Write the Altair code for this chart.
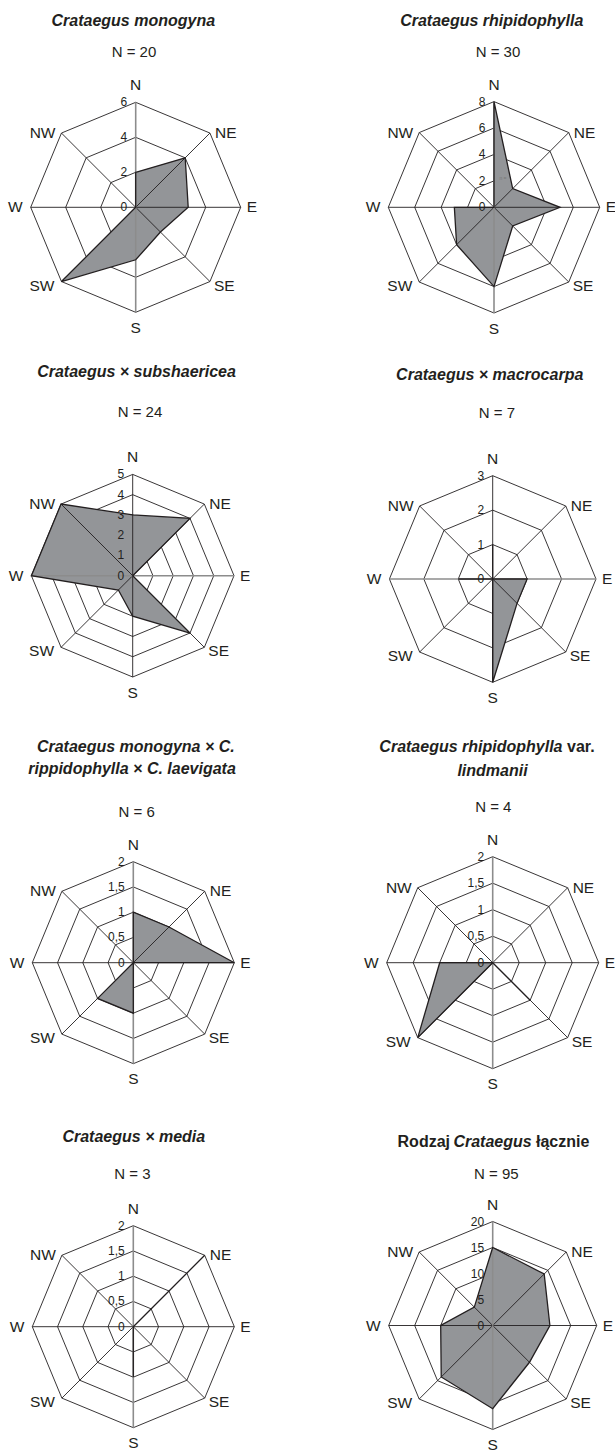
import math

import altair as alt
import pandas as pd

# ---------------------------------------------------------------------------
# Data: number of trees leaning towards each compass direction
# ---------------------------------------------------------------------------
directions = ["N", "NE", "E", "SE", "S", "SW", "W", "NW"]

sample_sizes = [20, 30, 24, 7, 6, 4, 3, 95]

monogyna = [2, 4, 3, 2, 3, 6, 0, 0]
rhipidophylla = [8, 2, 5, 2, 6, 4, 3, 0]
subshaericea = [3, 4, 0, 4, 2, 1, 5, 5]
macrocarpa = [1, 0, 1, 1, 3, 0, 1, 0]
triple_hybrid = [1, 1, 2, 0, 1, 1, 0, 0]
lindmanii = [0, 0, 0, 1, 0, 2, 1, 0]
media = [0, 2, 0, 0, 1, 0, 0, 0]
genus_total = [15, 14, 11, 10, 16, 14, 10, 5]

series = [monogyna, rhipidophylla, subshaericea, macrocarpa,
          triple_hybrid, lindmanii, media, genus_total]

axis_max = [6, 8, 5, 3, 2, 2, 2, 20]
tick_labels = [
    ["0", "2", "4", "6"],
    ["0", "2", "4", "6", "8"],
    ["0", "1", "2", "3", "4", "5"],
    ["0", "1", "2", "3"],
    ["0", "0,5", "1", "1,5", "2"],
    ["0", "0,5", "1", "1,5", "2"],
    ["0", "0,5", "1", "1,5", "2"],
    ["0", "5", "10", "15", "20"],
]

# Title pieces: (panel, line, text, italic)
title_parts = [
    (0, 0, "Crataegus monogyna", True),
    (1, 0, "Crataegus rhipidophylla", True),
    (2, 0, "Crataegus × subshaericea", True),
    (3, 0, "Crataegus × macrocarpa", True),
    (4, 0, "Crataegus monogyna × C.", True),
    (4, 1, "rippidophylla × C. laevigata", True),
    (5, 0, "Crataegus rhipidophylla", True),
    (5, 0, "var.", False),
    (5, 1, "lindmanii", True),
    (6, 0, "Crataegus × media", True),
    (7, 0, "Rodzaj", False),
    (7, 0, "Crataegus", True),
    (7, 0, "łącznie", False),
]

# ---------------------------------------------------------------------------
# Page layout (pixels)
# ---------------------------------------------------------------------------
PAGE_W, PAGE_H = 615, 1453
FONT = "Liberation Sans"
INK = "#231f20"
FILL = "#939598"
AXIS_GREY = "#8c8c8c"

# centre and outer radius of every radar panel
panel_geo = [
    (135.7, 207.3, 105.0),
    (494.0, 207.3, 105.7),
    (132.7, 575.7, 101.3),
    (492.7, 579.0, 103.3),
    (133.3, 962.7, 101.0),
    (492.7, 962.7, 106.0),
    (133.3, 1326.7, 101.0),
    (492.7, 1325.5, 104.0),
]
# which straight axis line is drawn in grey (0 = N-S, 2 = E-W)
grey_axis = [0, 0, 2, 2, 0, 0, 0, 0]

# "N = ..." headers
header_pos = [(134, 52.3), (498, 52.3), (140, 411.7), (497, 413),
              (136.7, 811.7), (493.3, 807), (132.5, 1174), (496.3, 1174)]

# title line anchors: (panel, line, piece) -> (x, y, anchor)
title_anchor = {
    (0, 0, 0): (133.3, 20.7, "center"),
    (1, 0, 0): (491.7, 20.7, "center"),
    (2, 0, 0): (136.5, 372.3, "center"),
    (3, 0, 0): (489.7, 375.0, "center"),
    (4, 0, 0): (135.8, 747.3, "center"),
    (4, 1, 0): (132.0, 769.0, "center"),
    (5, 0, 0): (562.5, 747.3, "right"),
    (5, 0, 1): (567.0, 747.3, "left"),
    (5, 1, 0): (492.5, 771.0, "center"),
    (6, 0, 0): (133.8, 1136.7, "center"),
    (7, 0, 0): (450.0, 1141.7, "right"),
    (7, 0, 1): (492.5, 1141.7, "center"),
    (7, 0, 2): (536.0, 1141.7, "left"),
}

# direction label offsets: (gap from outer vertex, anchor, dy)
label_style = {
    "N": (17, "center", 0), "NE": (5, "left", 0), "E": (6, "left", 0),
    "SE": (4, "left", 4), "S": (15.5, "center", 0), "SW": (7, "right", 4),
    "W": (8, "right", 0), "NW": (6, "right", 0),
}


def unit(i):
    a = math.radians(45 * i)
    return math.sin(a), -math.cos(a)


# ---------------------------------------------------------------------------
# Build tables
# ---------------------------------------------------------------------------
poly_rows, ring_rows, spoke_rows, tick_rows, dir_rows, head_rows = [], [], [], [], [], []
for p, vals in enumerate(series):
    cx, cy, R = panel_geo[p]
    vmax = axis_max[p]
    for i, v in enumerate(vals):
        ux, uy = unit(i)
        r = v / vmax * R
        poly_rows.append(dict(panel=p, idx=i, x=cx + r * ux, y=cy + r * uy))
    n_ticks = len(tick_labels[p])
    for k, lab in enumerate(tick_labels[p]):
        rr = k / (n_ticks - 1) * R
        tick_rows.append(dict(panel=p, text=lab, x=cx - 8.5, y=cy - rr))
        if k == 0:
            continue
        for i in range(8):
            ux, uy = unit(i)
            ring_rows.append(dict(ring=f"{p}-{k}", idx=i, x=cx + rr * ux, y=cy + rr * uy))
    for i, d in enumerate(directions):
        ux, uy = unit(i)
        grey = (i % 4) == grey_axis[p]
        spoke_rows.append(dict(panel=p, x=cx, y=cy, x2=cx + R * ux, y2=cy + R * uy,
                               tone="grey" if grey else "ink"))
        gap, anchor, dy = label_style[d]
        if d in ("N", "S"):
            lx, ly = cx, cy + (R + gap) * uy
        elif d in ("E", "W"):
            lx, ly = cx + (R + gap) * ux, cy
        else:
            lx = cx + R * ux + gap * (1 if ux > 0 else -1)
            ly = cy + R * uy + dy
        dir_rows.append(dict(text=d, x=lx, y=ly, anchor=anchor))
    hx, hy = header_pos[p]
    head_rows.append(dict(text=f"N = {sample_sizes[p]}", x=hx, y=hy))

title_rows = []
piece_count = {}
for p, line, txt, italic in title_parts:
    key = (p, line)
    j = piece_count.get(key, 0)
    piece_count[key] = j + 1
    x, y, anchor = title_anchor[(p, line, j)]
    title_rows.append(dict(text=txt, x=x, y=y, anchor=anchor, italic=italic))

poly = pd.DataFrame(poly_rows)
rings = pd.DataFrame(ring_rows)
spokes = pd.DataFrame(spoke_rows)
ticks = pd.DataFrame(tick_rows)
dirs = pd.DataFrame(dir_rows)
heads = pd.DataFrame(head_rows)
titles = pd.DataFrame(title_rows)

# ---------------------------------------------------------------------------
# Chart
# ---------------------------------------------------------------------------
xs = alt.Scale(domain=[0, PAGE_W], nice=False, zero=False)
ys = alt.Scale(domain=[0, PAGE_H], nice=False, zero=False, reverse=True)


def X(f="x"):
    return alt.X(f"{f}:Q", scale=xs, axis=None)


def Y(f="y"):
    return alt.Y(f"{f}:Q", scale=ys, axis=None)


ring_layer = alt.Chart(rings).mark_line(
    interpolate="linear-closed", stroke=INK, strokeWidth=0.9
).encode(x=X(), y=Y(), detail="ring:N", order="idx:Q")

# filled rose body, under the spokes
poly_fill = alt.Chart(poly).mark_line(
    interpolate="linear-closed", fill=FILL, strokeWidth=0
).encode(x=X(), y=Y(), detail="panel:N", order="idx:Q")

# rose outline, drawn above the spokes
poly_edge = alt.Chart(poly).mark_line(
    interpolate="linear-closed", stroke=INK, strokeWidth=1.3,
    strokeJoin="miter"
).encode(x=X(), y=Y(), detail="panel:N", order="idx:Q")

spoke_ink = alt.Chart(spokes[spokes["tone"] == "ink"]).mark_rule(
    stroke=INK, strokeWidth=0.9
).encode(x=X(), y=Y(), x2="x2:Q", y2="y2:Q")

spoke_grey = alt.Chart(spokes[spokes["tone"] == "grey"]).mark_rule(
    stroke=AXIS_GREY, strokeWidth=1.6
).encode(x=X(), y=Y(), x2="x2:Q", y2="y2:Q")

tick_layer = alt.Chart(ticks).mark_text(
    font=FONT, fontSize=12, align="right", baseline="middle", color=INK
).encode(x=X(), y=Y(), text="text:N")

dir_layers = [
    alt.Chart(dirs[dirs["anchor"] == a]).mark_text(
        font=FONT, fontSize=15.5, align=a, baseline="middle", color=INK
    ).encode(x=X(), y=Y(), text="text:N")
    for a in ("left", "center", "right")
]

head_layer = alt.Chart(heads).mark_text(
    font=FONT, fontSize=15, align="center", baseline="middle", color=INK
).encode(x=X(), y=Y(), text="text:N")

title_layers = []
for a in ("left", "center", "right"):
    for it in (True, False):
        sub = titles[(titles["anchor"] == a) & (titles["italic"] == it)]
        if sub.empty:
            continue
        title_layers.append(
            alt.Chart(sub).mark_text(
                font=FONT, fontSize=16, fontWeight="bold",
                fontStyle="italic" if it else "normal",
                align=a, baseline="middle", color=INK,
            ).encode(x=X(), y=Y(), text="text:N")
        )

# small stray annotation inside the second rose
note = alt.Chart(pd.DataFrame([dict(text="n =", x=503, y=178)])).mark_text(
    font=FONT, fontSize=5, align="center", baseline="middle", color="#777777"
).encode(x=X(), y=Y(), text="text:N")

chart = alt.layer(
    ring_layer, poly_fill, spoke_ink, spoke_grey, poly_edge, tick_layer, note,
    *dir_layers, head_layer, *title_layers,
).properties(
    width=PAGE_W, height=PAGE_H,
    autosize=alt.AutoSizeParams(type="none"), padding=0,
    background="white",
).configure_view(stroke=None)

chart.save("out.html", embed_options={"renderer": "svg", "actions": False})
